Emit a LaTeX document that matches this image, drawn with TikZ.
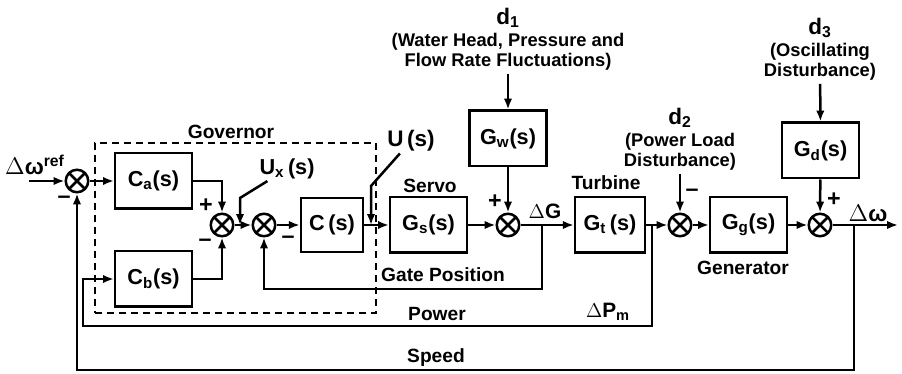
\documentclass[tikz,border=0pt]{standalone}
\usepackage{fontspec}
\setmainfont{Liberation Sans}
\usetikzlibrary{arrows.meta}

\begin{document}
\begin{tikzpicture}[
    x=0.6pt,
    y=-0.6pt,
    block/.style={
        rectangle,
        draw,
        line width=1.5pt,
        fill=white,
        align=center,
        inner sep=0pt,
        minimum width=46pt,
        minimum height=33.3pt,
        font=\bfseries\fontsize{13}{15}\selectfont
    },
    sumnode/.style={
        circle,
        draw,
        line width=1.5pt,
        minimum size=13.5pt,
        inner sep=0pt,
        path picture={
            \draw[line width=1.5pt]
                (path picture bounding box.north west) -- (path picture bounding box.south east)
                (path picture bounding box.south west) -- (path picture bounding box.north east);
        }
    },
    line/.style={
        draw, -{Latex[length=6.5pt,width=5pt]}, line width=1.5pt
    },
    govbox/.style={
        rectangle,
        draw,
        line width=1.5pt,
        dash pattern=on 4.2pt off 3pt
    },
    txt/.style={
        font=\bfseries\fontsize{11.5}{13}\selectfont,
        inner sep=1pt
    },
    big/.style={
        font=\bfseries\fontsize{13.5}{15}\selectfont,
        inner sep=1pt
    },
    dist/.style={
        font=\bfseries\fontsize{11}{12.2}\selectfont,
        align=center,
        inner sep=2pt
    },
    sign/.style={
        font=\bfseries\fontsize{14}{14}\selectfont,
        inner sep=0pt
    }
]
\useasboundingbox (0,0) rectangle (902,374);

% Governor frame
\node [govbox, minimum width=168.6pt, minimum height=102pt] (gov) at (235.5,228) {};
\node [txt] (govlbl) at (231,132) {Governor};

% Blocks
\node [block] (ca) at (153.5,181) {C\textsubscript{a}(s)};
\node [block] (cb) at (153.5,279) {C\textsubscript{b}(s)};
\node [block, minimum width=37.2pt, minimum height=32.4pt] (cs) at (332,225) {C\,(s)};
\node [block] (gs) at (428.5,225) {G\textsubscript{s}(s)};
\node [block] (gw) at (508,138.5) {G\textsubscript{w}(s)};
\node [block, minimum width=42pt] (gt) at (610,225) {G\textsubscript{t}\,(s)};
\node [block] (gg) at (748.5,225) {G\textsubscript{g}(s)};
\node [block] (gd) at (820.5,150.5) {G\textsubscript{d}(s)};

% Summing junctions
\node [sumnode] (sumin) at (77,181) {};
\node [sumnode] (sumab) at (222,225) {};
\node [sumnode] (sumux) at (264,225) {};
\node [sumnode] (sumw) at (508,225) {};
\node [sumnode] (sumd) at (680,225) {};
\node [sumnode] (sumo) at (820,225) {};

% Signs
\node [sign] (s1) at (64,200) {–};
\node [sign] (s2) at (206,206) {+};
\node [sign] (s3) at (205,243) {–};
\node [sign] (s4) at (288,240) {–};
\node [sign] (s5) at (495,202) {+};
\node [sign] (s6) at (692,193) {–};
\node [sign] (s7) at (834,200) {+};

% Labels
\node [big] (wref) at (35,165) {$\Delta$ω\textsuperscript{ref}};
\node [big, font=\bfseries\fontsize{13}{15}\selectfont] (uxlbl) at (287,169) {U\textsubscript{x}\,(s)};
\node [big] (ulbl) at (411,141) {U\,(s)};
\node [txt] (servo) at (430,186) {Servo};
\node [txt] (turb) at (606,183) {Turbine};
\node [txt] (gen) at (743,268) {Generator};
\node [txt] (gate) at (443,275) {Gate Position};
\node [txt] (pow) at (437,314) {Power};
\node [txt] (spd) at (436,358) {Speed};
\node [big, font=\bfseries\fontsize{12.5}{14}\selectfont] (dg) at (545,211) {$\Delta$G};
\node [big, font=\bfseries\fontsize{12.5}{14}\selectfont] (dpm) at (608,312) {$\Delta$P\textsubscript{m}};
\node [big] (dw) at (868,213) {$\Delta$ω};

% Disturbances
\node [dist] (d1) at (508,39) {{\fontsize{13.5}{13}\selectfont d\textsubscript{1}}\\[1pt](Water Head, Pressure and\\Flow Rate Fluctuations)};
\node [dist] (d2) at (680,139) {{\fontsize{13.5}{13}\selectfont d\textsubscript{2}}\\[1pt](Power Load\\Disturbance)};
\node [dist] (d3) at (820,49) {{\fontsize{13.5}{13}\selectfont d\textsubscript{3}}\\[1pt](Oscillating\\Disturbance)};

% Helper points
\coordinate (in) at (29,181);
\coordinate (out) at (898,225);
\coordinate (uxbend) at (240,198);
\coordinate (uxend) at (240,225);
\coordinate (ubend) at (371,186);
\coordinate (uend) at (371,225);
\coordinate (gtap) at (542,225);
\coordinate (gpos) at (542,289);
\coordinate (ptap) at (652,225);
\coordinate (pbot) at (652,326);
\coordinate (pleft) at (83,326);
\coordinate (stap) at (854,225);
\coordinate (sbot) at (854,370);

% Forward path
\draw [line] (in) -- (sumin);
\draw [line] (sumin) -- (ca);
\draw [line] (ca) -| (sumab);
\draw [line] (cb) -| (sumab);
\draw [line] (sumab) -- (sumux);
\draw [line] (sumux) -- (cs);
\draw [line] (cs) -- (gs);
\draw [line] (gs) -- (sumw);
\draw [line] (gw) -- (sumw);
\draw [line] (sumw) -- (gt);
\draw [line] (gt) -- (sumd);
\draw [line] (sumd) -- (gg);
\draw [line] (gg) -- (sumo);
\draw [line] (gd) -- (sumo);
\draw [line] (sumo) -- (out);

% Disturbance inputs
\draw [line] (d1) -- (gw);
\draw [line] (d2) -- (sumd);
\draw [line] (d3) -- (gd);
\draw [line] (uxlbl) -- (uxbend) -- (uxend);
\draw [line] (ulbl) -- (ubend) -- (uend);

% Feedback loops
\draw [line] (gtap) -- (gpos) -| (sumux);
\draw [line] (ptap) -- (pbot) -- (pleft) |- (cb);
\draw [line] (stap) -- (sbot) -| (sumin);

\end{tikzpicture}
\end{document}
